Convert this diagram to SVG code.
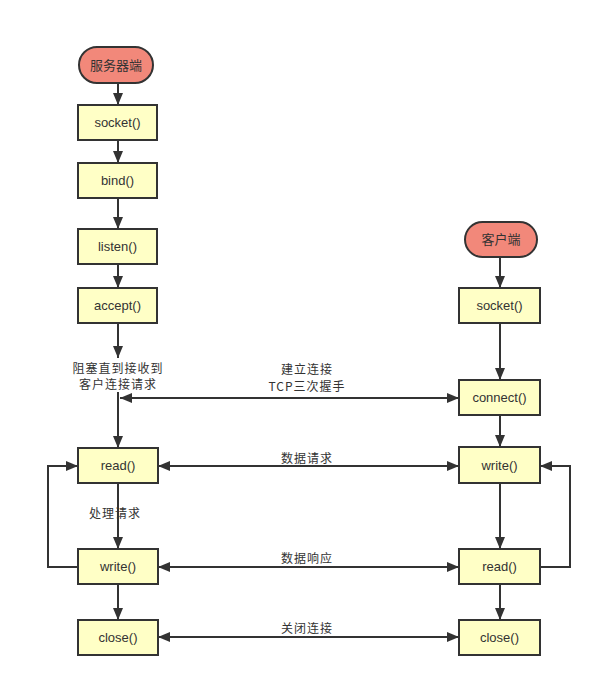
<svg xmlns="http://www.w3.org/2000/svg" width="601" height="686" viewBox="0 0 601 686">
<style>
.box{fill:#FFFFC6;stroke:#333;stroke-width:2}
.pill{fill:#F2887A;stroke:#333;stroke-width:2}
.t{font-family:"Liberation Sans",Arial,"Noto Sans CJK SC",sans-serif;font-size:13px;fill:#333;text-anchor:middle;dominant-baseline:central}
.lbl{font-family:"Noto Sans CJK SC",sans-serif;font-size:12px;fill:#333;text-anchor:middle;dominant-baseline:central;letter-spacing:1px}
.ln{fill:none;stroke:#333;stroke-width:2}
</style>
<defs>
<marker id="ah" markerUnits="userSpaceOnUse" markerWidth="12" markerHeight="12" viewBox="0 0 12 12" refX="12" refY="6" orient="auto-start-reverse">
<path d="M0,1 L12,6 L0,11 Z" fill="#333"/>
</marker>
</defs>
<rect width="601" height="686" fill="#fff"/>
<g id="connectors">
<line class="ln" x1="118" y1="83" x2="118" y2="105" marker-end="url(#ah)"/>
<line class="ln" x1="118" y1="140" x2="118" y2="163" marker-end="url(#ah)"/>
<line class="ln" x1="118" y1="198" x2="118" y2="229" marker-end="url(#ah)"/>
<line class="ln" x1="118" y1="264" x2="118" y2="288" marker-end="url(#ah)"/>
<line class="ln" x1="118" y1="323" x2="118" y2="358" marker-end="url(#ah)"/>
<line class="ln" x1="118" y1="392" x2="118" y2="448" marker-end="url(#ah)"/>
<line class="ln" x1="118" y1="483" x2="118" y2="549" marker-end="url(#ah)"/>
<line class="ln" x1="118" y1="584" x2="118" y2="620" marker-end="url(#ah)"/>
<line class="ln" x1="500" y1="257" x2="500" y2="288" marker-end="url(#ah)"/>
<line class="ln" x1="500" y1="323" x2="500" y2="380" marker-end="url(#ah)"/>
<line class="ln" x1="500" y1="415" x2="500" y2="447" marker-end="url(#ah)"/>
<line class="ln" x1="500" y1="483" x2="500" y2="549" marker-end="url(#ah)"/>
<line class="ln" x1="500" y1="584" x2="500" y2="620" marker-end="url(#ah)"/>
<line class="ln" x1="120" y1="398" x2="459" y2="398" marker-start="url(#ah)" marker-end="url(#ah)"/>
<line class="ln" x1="158" y1="466" x2="459" y2="466" marker-start="url(#ah)" marker-end="url(#ah)"/>
<line class="ln" x1="158" y1="567" x2="459" y2="567" marker-start="url(#ah)" marker-end="url(#ah)"/>
<line class="ln" x1="158" y1="637" x2="459" y2="637" marker-start="url(#ah)" marker-end="url(#ah)"/>
<path class="ln" d="M78,567 H48 V466 H78" marker-end="url(#ah)"/>
<path class="ln" d="M540,567 H570 V466 H540" marker-end="url(#ah)"/>
<text class="lbl" x="118" y="367">阻塞直到接收到</text>
<text class="lbl" x="118" y="383">客户连接请求</text>
<text class="lbl" x="115" y="512">处理请求</text>
<text class="lbl" x="307" y="368">建立连接</text>
<text class="lbl" x="307" y="385">TCP三次握手</text>
<text class="lbl" x="307" y="457">数据请求</text>
<text class="lbl" x="307" y="557">数据响应</text>
<text class="lbl" x="307" y="627">关闭连接</text>
</g>
<g id="server"><rect class="pill" x="79" y="47" width="74" height="36" rx="18"/><text class="t" x="116" y="65">服务器端</text></g>
<g id="s_socket"><rect class="box" x="78" y="105" width="79" height="35"/><text class="t" x="117.5" y="122.5">socket()</text></g>
<g id="s_bind"><rect class="box" x="78" y="163" width="79" height="35"/><text class="t" x="117.5" y="180.5">bind()</text></g>
<g id="s_listen"><rect class="box" x="78" y="229" width="79" height="35"/><text class="t" x="117.5" y="246.5">listen()</text></g>
<g id="s_accept"><rect class="box" x="78" y="288" width="79" height="35"/><text class="t" x="117.5" y="305.5">accept()</text></g>
<g id="s_read"><rect class="box" x="78" y="448" width="80" height="35"/><text class="t" x="118" y="465.5">read()</text></g>
<g id="s_write"><rect class="box" x="78" y="549" width="80" height="35"/><text class="t" x="118" y="566.5">write()</text></g>
<g id="s_close"><rect class="box" x="78" y="620" width="80" height="35"/><text class="t" x="118" y="637.5">close()</text></g>
<g id="client"><rect class="pill" x="465" y="222" width="72" height="35" rx="17.5"/><text class="t" x="501" y="239.5">客户端</text></g>
<g id="c_socket"><rect class="box" x="459" y="288" width="81" height="35"/><text class="t" x="499.5" y="305.5">socket()</text></g>
<g id="c_connect"><rect class="box" x="459" y="380" width="81" height="35"/><text class="t" x="499.5" y="397.5">connect()</text></g>
<g id="c_write"><rect class="box" x="459" y="447" width="81" height="36"/><text class="t" x="499.5" y="465">write()</text></g>
<g id="c_read"><rect class="box" x="459" y="549" width="81" height="35"/><text class="t" x="499.5" y="566.5">read()</text></g>
<g id="c_close"><rect class="box" x="459" y="620" width="81" height="35"/><text class="t" x="499.5" y="637.5">close()</text></g>
</svg>
